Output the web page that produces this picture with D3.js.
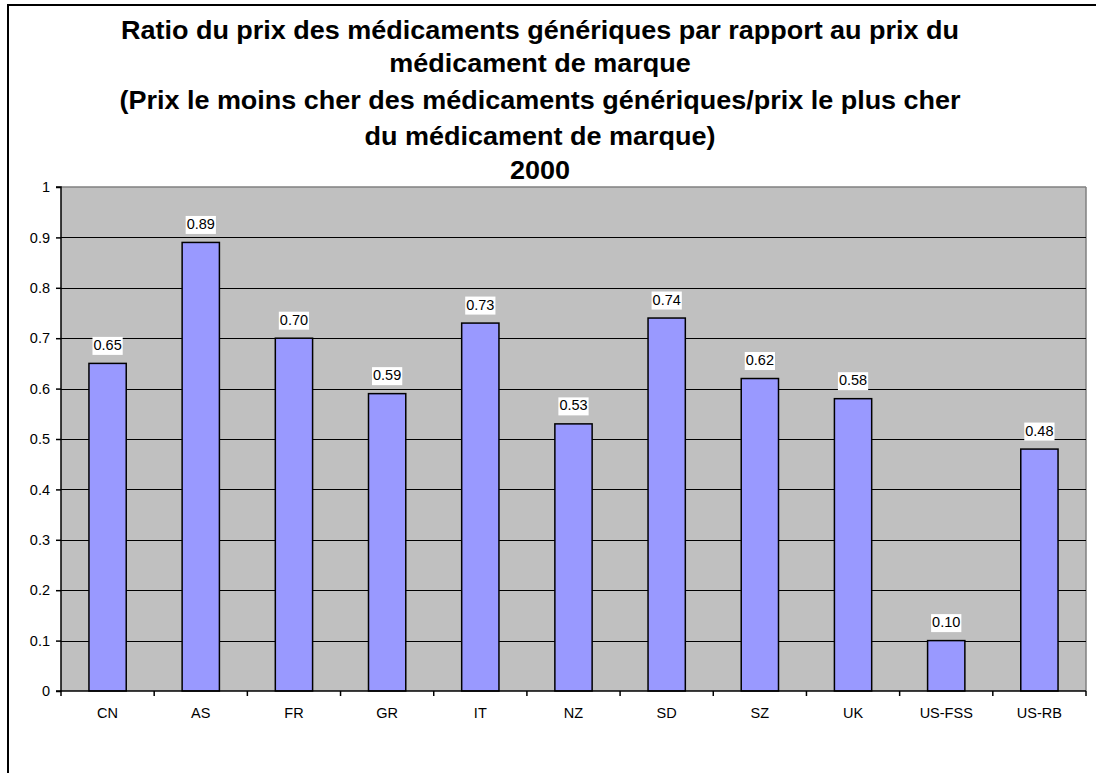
<!DOCTYPE html>
<html><head><meta charset="utf-8">
<script src="https://cdn.jsdelivr.net/npm/d3@7"></script>
<style>body{margin:0;background:#fff}svg{display:block}text{font-family:"Liberation Sans",Arial,sans-serif}</style>
</head><body><svg id="c" width="1096" height="773"></svg>
<script>
const categories = ["CN","AS","FR","GR","IT","NZ","SD","SZ","UK","US-FSS","US-RB"];
const values = [0.65,0.89,0.70,0.59,0.73,0.53,0.74,0.62,0.58,0.10,0.48];
const yTicks = [0,0.1,0.2,0.3,0.4,0.5,0.6,0.7,0.8,0.9,1];
const yTickLabels = ["0","0.1","0.2","0.3","0.4","0.5","0.6","0.7","0.8","0.9","1"];
const titleLines = ["Ratio du prix des médicaments génériques par rapport au prix du","médicament de marque","(Prix le moins cher des médicaments génériques/prix le plus cher","du médicament de marque)","2000"];

const svg = d3.select("#c");
const L=61,R=1086,T=187,B=691;
svg.append("rect").attr("x",8).attr("y",5).attr("width",1100).attr("height",780).attr("fill","#fff").attr("stroke","#000").attr("stroke-width",2);

const x = d3.scaleBand().domain(categories).range([L,R]).paddingInner(0.6).paddingOuter(0.3);
const xb = d3.scaleBand().domain(categories).range([L,R]);
const y = d3.scaleLinear().domain([0,1]).range([B,T]);

svg.append("rect").attr("x",L).attr("y",T).attr("width",R-L).attr("height",B-T).attr("fill","#C0C0C0");
svg.append("line").attr("x1",L).attr("x2",R).attr("y1",T).attr("y2",T).attr("stroke","#808080").attr("stroke-width",1.5);
svg.append("line").attr("x1",R).attr("x2",R).attr("y1",T).attr("y2",B).attr("stroke","#808080").attr("stroke-width",1.5);
svg.selectAll(".grid").data(yTicks.filter(d=>d>0&&d<1)).enter().append("line")
  .attr("x1",L).attr("x2",R).attr("y1",d=>Math.round(y(d))+0.5).attr("y2",d=>Math.round(y(d))+0.5).attr("stroke","#000");

svg.selectAll(".bar").data(values).enter().append("rect")
  .attr("x",(d,i)=>x(categories[i])).attr("width",x.bandwidth())
  .attr("y",d=>y(d)).attr("height",d=>B-y(d))
  .attr("fill","#9999FF").attr("stroke","#000").attr("stroke-width",1.5);

// y axis
const ya = d3.axisLeft(y).tickValues(yTicks).tickFormat((d,i)=>yTickLabels[i]).tickSize(5).tickPadding(6);
const gy = svg.append("g").attr("transform",`translate(${L},0)`).call(ya);
gy.select(".domain").attr("stroke","#000").attr("stroke-width",1.5).attr("d",`M-5,${T}H0V${B}H-5`);
gy.selectAll(".tick line").attr("stroke","#000").attr("stroke-width",1.5);
gy.selectAll("text").attr("font-size",14.5).attr("fill","#000").attr("font-family","Liberation Sans, Arial, sans-serif");

// x axis with ticks at boundaries
const gx = svg.append("g").attr("transform",`translate(0,${B})`);
gx.append("line").attr("x1",L).attr("x2",R).attr("stroke","#000").attr("stroke-width",1.5);
const bounds = categories.map(c=>xb(c)).concat([R]);
gx.selectAll(".tk").data(bounds).enter().append("line").attr("x1",d=>d).attr("x2",d=>d).attr("y1",0).attr("y2",5).attr("stroke","#000").attr("stroke-width",1.5);
gx.selectAll(".lb").data(categories).enter().append("text")
  .attr("x",d=>xb(d)+xb.bandwidth()/2).attr("y",27).attr("text-anchor","middle").attr("font-size",14.5).text(d=>d);

// data labels
const lg = svg.selectAll(".dl").data(values).enter().append("g");
lg.each(function(d,i){
  const g=d3.select(this);
  const cx = x(categories[i])+x.bandwidth()/2;
  const t = g.append("text").attr("x",cx).attr("y",y(d)-13.5).attr("text-anchor","middle").attr("font-size",14.5).text(d3.format(".2f")(d));
  const bb = t.node().getBBox();
  g.insert("rect","text").attr("x",bb.x-1).attr("y",bb.y).attr("width",bb.width+2).attr("height",bb.height+2).attr("fill","#fff");
});

// title
const ty=[39,72,109,145,179];
svg.selectAll(".ttl").data(titleLines).enter().append("text")
  .attr("transform",(d,i)=>`translate(540,${ty[i]}) scale(1.08,1)`)
  .attr("text-anchor","middle").attr("font-size",25).attr("font-weight","bold").text(d=>d);
</script></body></html>
